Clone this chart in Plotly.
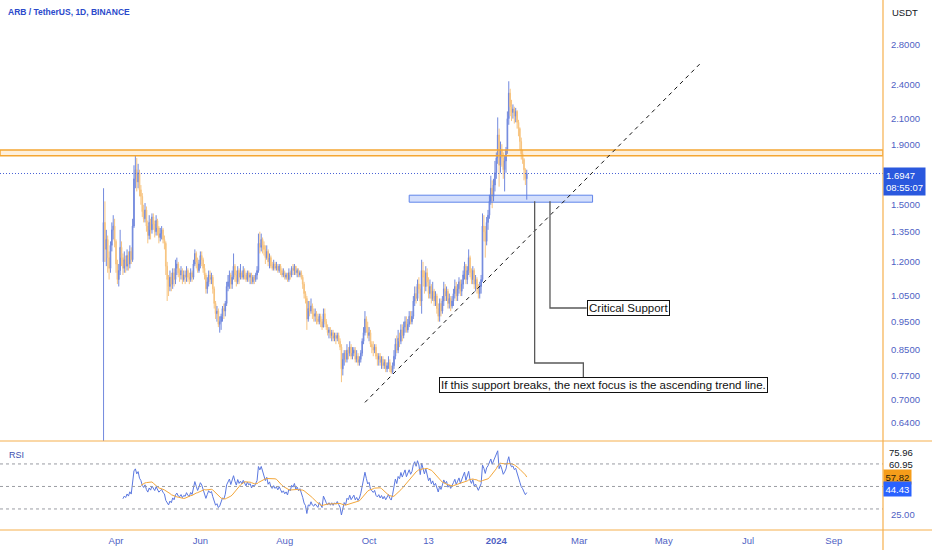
import math
import pandas as pd
import plotly.graph_objects as go

# ARB / USDT daily candles (open = previous close)
FIRST_DAY = "2023-03-23"
FIRST_OPEN = 1.20

closes = [
    1.40, 1.26, 1.31, 1.22, 1.17, 1.28, 1.36, 1.38, 1.30, 1.19,
    1.12, 1.16, 1.27, 1.22, 1.17, 1.21, 1.18, 1.23, 1.19, 1.25,
    1.21, 1.38, 1.66, 1.72, 1.64, 1.70, 1.59, 1.55, 1.46, 1.42,
    1.47, 1.38, 1.33, 1.40, 1.36, 1.43, 1.39, 1.35, 1.41, 1.37,
    1.32, 1.34, 1.36, 1.31, 1.29, 1.18, 1.12, 1.09, 1.13, 1.10,
    1.15, 1.12, 1.17, 1.19, 1.15, 1.14, 1.16, 1.12, 1.14, 1.13,
    1.16, 1.13, 1.12, 1.15, 1.13, 1.19, 1.24, 1.20, 1.16, 1.19,
    1.23, 1.21, 1.17, 1.14, 1.08, 1.11, 1.14, 1.12, 1.13, 1.08,
    1.02, 0.98, 0.99, 0.94, 0.95, 0.97, 1.00, 0.99, 1.02, 1.09,
    1.11, 1.14, 1.10, 1.13, 1.18, 1.14, 1.11, 1.16, 1.13, 1.15,
    1.13, 1.16, 1.14, 1.12, 1.15, 1.13, 1.14, 1.11, 1.13, 1.12,
    1.14, 1.16, 1.29, 1.27, 1.31, 1.28, 1.26, 1.22, 1.25, 1.20,
    1.22, 1.18, 1.17, 1.19, 1.17, 1.18, 1.16, 1.18, 1.16, 1.14,
    1.15, 1.13, 1.14, 1.12, 1.15, 1.14, 1.17, 1.16, 1.18, 1.15,
    1.16, 1.14, 1.15, 1.13, 1.10, 1.06, 1.04, 0.96, 1.00, 0.99,
    1.01, 0.98, 0.97, 0.98, 0.96, 0.95, 0.97, 0.95, 0.93, 0.98,
    0.95, 0.93, 0.91, 0.92, 0.90, 0.91, 0.89, 0.90, 0.89, 0.90,
    0.88, 0.86, 0.79, 0.82, 0.84, 0.82, 0.85, 0.84, 0.86, 0.83,
    0.84, 0.85, 0.82, 0.83, 0.81, 0.82, 0.84, 0.88, 0.91, 0.96,
    0.93, 0.90, 0.91, 0.87, 0.86, 0.85, 0.86, 0.83, 0.82, 0.83,
    0.81, 0.82, 0.80, 0.81, 0.79, 0.80, 0.81, 0.79, 0.78, 0.80,
    0.83, 0.87, 0.85, 0.89, 0.88, 0.92, 0.90, 0.93, 0.95, 0.92,
    0.94, 0.97, 0.95, 0.97, 1.03, 1.06, 1.04, 1.10, 1.08, 1.03,
    1.16, 1.13, 1.09, 1.15, 1.11, 1.06, 1.09, 1.04, 1.07, 1.03,
    1.05, 1.00, 0.97, 1.02, 0.99, 1.03, 1.08, 1.05, 1.07, 1.02,
    1.04, 1.01, 1.03, 1.06, 1.09, 1.05, 1.08, 1.11, 1.07, 1.10,
    1.14, 1.18, 1.12, 1.16, 1.22, 1.15, 1.12, 1.16, 1.10, 1.12,
    1.08, 1.06, 1.09, 1.12, 1.38, 1.35, 1.30, 1.40, 1.44, 1.52,
    1.60, 1.55, 1.62, 1.70, 1.80, 1.97, 1.75, 1.86, 1.80, 1.72,
    1.78, 1.86, 2.10, 2.32, 2.20, 2.15, 2.18, 2.12, 2.16, 2.07,
    2.02, 1.92, 1.83, 1.79, 1.72, 1.66, 1.6947,
]

highs = [
    1.60, 1.52, 1.36, 1.33, 1.25, 1.30, 1.40, 1.44, 1.42, 1.31,
    1.21, 1.19, 1.36, 1.30, 1.24, 1.25, 1.23, 1.26, 1.25, 1.28,
    1.27, 1.42, 1.75, 1.82, 1.80, 1.76, 1.72, 1.62, 1.57, 1.50,
    1.51, 1.49, 1.41, 1.44, 1.42, 1.45, 1.45, 1.41, 1.44, 1.42,
    1.38, 1.37, 1.38, 1.37, 1.33, 1.30, 1.20, 1.14, 1.16, 1.15,
    1.17, 1.17, 1.21, 1.22, 1.20, 1.17, 1.18, 1.17, 1.16, 1.16,
    1.18, 1.17, 1.15, 1.17, 1.16, 1.21, 1.26, 1.25, 1.22, 1.21,
    1.25, 1.25, 1.22, 1.19, 1.15, 1.13, 1.16, 1.16, 1.15, 1.14,
    1.09, 1.03, 1.01, 1.00, 0.97, 0.98, 1.01, 1.02, 1.03, 1.11,
    1.14, 1.16, 1.15, 1.16, 1.24, 1.19, 1.16, 1.18, 1.17, 1.19,
    1.16, 1.18, 1.17, 1.15, 1.16, 1.16, 1.15, 1.15, 1.14, 1.14,
    1.15, 1.18, 1.34, 1.35, 1.34, 1.32, 1.30, 1.28, 1.28, 1.26,
    1.24, 1.23, 1.20, 1.21, 1.20, 1.20, 1.19, 1.19, 1.19, 1.17,
    1.17, 1.16, 1.15, 1.15, 1.17, 1.16, 1.18, 1.19, 1.19, 1.18,
    1.17, 1.17, 1.16, 1.16, 1.14, 1.11, 1.07, 1.05, 1.03, 1.03,
    1.04, 1.02, 1.00, 1.00, 0.99, 0.98, 0.98, 0.98, 0.96, 1.00,
    1.00, 0.96, 0.94, 0.93, 0.93, 0.92, 0.92, 0.91, 0.91, 0.91,
    0.91, 0.89, 0.87, 0.84, 0.85, 0.85, 0.87, 0.86, 0.88, 0.87,
    0.86, 0.86, 0.86, 0.85, 0.84, 0.83, 0.85, 0.89, 0.93, 0.99,
    0.97, 0.95, 0.93, 0.92, 0.88, 0.88, 0.87, 0.87, 0.84, 0.84,
    0.84, 0.83, 0.83, 0.82, 0.82, 0.81, 0.83, 0.82, 0.80, 0.81,
    0.85, 0.89, 0.90, 0.92, 0.91, 0.94, 0.94, 0.95, 0.97, 0.97,
    0.96, 0.99, 0.99, 0.99, 1.05, 1.09, 1.09, 1.12, 1.13, 1.10,
    1.21, 1.20, 1.16, 1.18, 1.17, 1.13, 1.12, 1.10, 1.11, 1.08,
    1.07, 1.06, 1.02, 1.04, 1.04, 1.05, 1.11, 1.10, 1.09, 1.08,
    1.06, 1.05, 1.05, 1.08, 1.12, 1.11, 1.10, 1.13, 1.12, 1.12,
    1.16, 1.20, 1.19, 1.18, 1.26, 1.23, 1.17, 1.18, 1.17, 1.14,
    1.13, 1.10, 1.11, 1.14, 1.45, 1.44, 1.38, 1.43, 1.47, 1.56,
    1.68, 1.65, 1.66, 1.78, 1.84, 2.11, 2.02, 1.92, 1.90, 1.84,
    1.82, 1.88, 2.16, 2.43, 2.36, 2.26, 2.22, 2.20, 2.19, 2.17,
    2.09, 2.03, 1.95, 1.86, 1.80, 1.73, 1.72,
]

lows = [
    0.45, 1.20, 1.18, 1.15, 1.12, 1.15, 1.25, 1.31, 1.27, 1.15,
    1.10, 1.09, 1.14, 1.18, 1.14, 1.15, 1.15, 1.16, 1.16, 1.17,
    1.19, 1.20, 1.37, 1.60, 1.58, 1.60, 1.55, 1.50, 1.43, 1.40,
    1.40, 1.35, 1.29, 1.31, 1.31, 1.34, 1.36, 1.32, 1.33, 1.33,
    1.29, 1.30, 1.31, 1.29, 1.26, 1.14, 1.03, 1.05, 1.07, 1.07,
    1.08, 1.09, 1.10, 1.14, 1.13, 1.11, 1.12, 1.10, 1.11, 1.10,
    1.11, 1.11, 1.10, 1.11, 1.11, 1.12, 1.18, 1.17, 1.15, 1.15,
    1.17, 1.18, 1.15, 1.12, 1.06, 1.06, 1.09, 1.10, 1.10, 1.06,
    1.00, 0.96, 0.95, 0.93, 0.91, 0.92, 0.95, 0.96, 0.97, 1.01,
    1.07, 1.08, 1.08, 1.08, 1.12, 1.11, 1.09, 1.10, 1.10, 1.12,
    1.12, 1.12, 1.12, 1.11, 1.11, 1.11, 1.10, 1.10, 1.10, 1.10,
    1.11, 1.12, 1.15, 1.24, 1.25, 1.24, 1.23, 1.19, 1.21, 1.18,
    1.17, 1.17, 1.16, 1.16, 1.16, 1.16, 1.15, 1.15, 1.14, 1.13,
    1.13, 1.12, 1.12, 1.11, 1.11, 1.12, 1.13, 1.14, 1.14, 1.14,
    1.13, 1.13, 1.13, 1.12, 1.08, 1.04, 1.02, 0.92, 0.95, 0.97,
    0.98, 0.96, 0.95, 0.95, 0.94, 0.94, 0.94, 0.93, 0.92, 0.93,
    0.94, 0.92, 0.90, 0.89, 0.89, 0.88, 0.88, 0.88, 0.87, 0.88,
    0.87, 0.85, 0.75, 0.77, 0.80, 0.81, 0.81, 0.82, 0.83, 0.82,
    0.82, 0.83, 0.81, 0.81, 0.80, 0.80, 0.81, 0.83, 0.87, 0.90,
    0.91, 0.89, 0.88, 0.86, 0.84, 0.83, 0.84, 0.82, 0.80, 0.80,
    0.80, 0.79, 0.79, 0.79, 0.78, 0.78, 0.79, 0.78, 0.775, 0.775,
    0.79, 0.82, 0.84, 0.84, 0.86, 0.87, 0.88, 0.89, 0.91, 0.91,
    0.91, 0.93, 0.94, 0.94, 0.96, 1.01, 1.02, 1.03, 1.06, 1.01,
    0.98, 1.09, 1.06, 1.07, 1.09, 1.04, 1.04, 1.02, 1.03, 1.01,
    1.01, 0.98, 0.95, 0.95, 0.97, 0.98, 1.01, 1.03, 1.03, 1.00,
    1.00, 0.99, 1.00, 1.01, 1.04, 1.03, 1.03, 1.06, 1.05, 1.05,
    1.08, 1.12, 1.10, 1.10, 1.14, 1.13, 1.10, 1.10, 1.08, 1.07,
    1.06, 1.04, 1.04, 1.06, 1.11, 1.30, 1.22, 1.28, 1.36, 1.42,
    1.50, 1.48, 1.52, 1.58, 1.66, 1.76, 1.61, 1.70, 1.74, 1.66,
    1.58, 1.70, 1.83, 2.05, 2.12, 2.08, 2.10, 2.06, 2.07, 2.02,
    1.96, 1.86, 1.79, 1.76, 1.65, 1.62, 1.53,
]

price_ticks = [0.64, 0.70, 0.77, 0.85, 0.95, 1.05, 1.20, 1.35, 1.50, 1.90, 2.10, 2.40, 2.80]
date_ticks = ["2023-04-01", "2023-06-01", "2023-08-01", "2023-10-01", "2023-11-13",
              "2024-01-01", "2024-03-01", "2024-05-01", "2024-07-01", "2024-09-01"]
date_labels = ["Apr", "Jun", "Aug", "Oct", "13", "<b>2024</b>", "Mar", "May", "Jul", "Sep"]

# drawings on the chart
resistance_zone = [1.816, 1.858]
support_zone = [1.515, 1.557]
support_dates = ["2023-10-30", "2024-03-10 14:00"]
trend_dates = ["2023-09-28", "2024-05-27"]
trend_prices = [0.693, 2.598]
last_price = 1.6947
countdown = "08:55:07"
callout1_dates = ["2024-02-08 19:00", "2024-02-08 19:00", "2024-03-06 07:00"]
callout1_prices = [1.52, 1.002, 1.002]
callout2_dates = ["2024-01-28 17:00", "2024-01-28 17:00", "2024-03-03 22:00", "2024-03-03 22:00"]
callout2_prices = [1.52, 0.8084, 0.8084, 0.7649]
note1 = "Critical Support"
note2 = "If this support breaks, the next focus is the ascending trend line."

rsi_levels = [70, 50, 30]
rsi_scale_labels = ["75.96", "60.95"]
rsi_ma_label = "57.82"
rsi_label = "44.43"

X_RANGE = ["2023-01-07 03:00", "2024-10-06 14:00"]
Y_RANGE = [0.596, 3.338]
RSI_RANGE = [11.3, 90.4]

UP = "#7289de"
DOWN = "#f7c480"
BORDER = "#f6b04e"
AXIS_TXT = "#4f62c4"
FONT = "Liberation Sans"


def wilder_rsi(values, length=14):
    out = [None] * len(values)
    gains = [max(values[k] - values[k - 1], 0) for k in range(1, len(values))]
    losses = [max(values[k - 1] - values[k], 0) for k in range(1, len(values))]
    avg_g = sum(gains[:length]) / length
    avg_l = sum(losses[:length]) / length
    for k in range(length, len(values)):
        if k > length:
            avg_g = (avg_g * (length - 1) + gains[k - 1]) / length
            avg_l = (avg_l * (length - 1) + losses[k - 1]) / length
        out[k] = 100.0 if avg_l == 0 else 100 - 100 / (1 + avg_g / avg_l)
    return out


dates = pd.date_range(FIRST_DAY, periods=len(closes), freq="D")
opens = [FIRST_OPEN] + closes[:-1]
rsi = pd.Series(wilder_rsi(closes), dtype=float)
rsi_ma = rsi.rolling(14).mean()

fig = go.Figure()

fig.add_trace(go.Candlestick(
    x=dates, open=opens, high=highs, low=lows, close=closes,
    increasing=dict(line=dict(color=UP, width=1), fillcolor=UP),
    decreasing=dict(line=dict(color=DOWN, width=1), fillcolor=DOWN),
    whiskerwidth=0, hoverinfo="skip", xaxis="x", yaxis="y",
))

# resistance band across the whole chart
fig.add_trace(go.Scatter(
    x=[X_RANGE[0], X_RANGE[1], X_RANGE[1], X_RANGE[0], X_RANGE[0]],
    y=[resistance_zone[0], resistance_zone[0], resistance_zone[1], resistance_zone[1], resistance_zone[0]],
    mode="lines", fill="toself", fillcolor="rgba(247,170,60,0.18)",
    line=dict(color="#f5a733", width=1.5), hoverinfo="skip", xaxis="x", yaxis="y",
))

# support box
fig.add_trace(go.Scatter(
    x=[support_dates[0], support_dates[1], support_dates[1], support_dates[0], support_dates[0]],
    y=[support_zone[0], support_zone[0], support_zone[1], support_zone[1], support_zone[0]],
    mode="lines", fill="toself", fillcolor="rgba(60,110,240,0.22)",
    line=dict(color="#5f84ea", width=1), hoverinfo="skip", xaxis="x", yaxis="y",
))

# last price line
fig.add_trace(go.Scatter(
    x=X_RANGE, y=[last_price, last_price], mode="lines",
    line=dict(color="#4a63d6", width=1, dash="1px,2px"), hoverinfo="skip", xaxis="x", yaxis="y",
))

# ascending trend line
fig.add_trace(go.Scatter(
    x=trend_dates, y=trend_prices, mode="lines",
    line=dict(color="#111111", width=1, dash="4px,4px"), hoverinfo="skip", xaxis="x", yaxis="y",
))

# callout leader lines
for cx, cy in [(callout1_dates, callout1_prices), (callout2_dates, callout2_prices)]:
    fig.add_trace(go.Scatter(
        x=cx, y=cy, mode="lines", line=dict(color="#5a5a5a", width=1.3),
        hoverinfo="skip", xaxis="x", yaxis="y",
    ))

# RSI pane
fig.add_trace(go.Scatter(
    x=dates, y=rsi, mode="lines", line=dict(color="#5b78e0", width=1),
    hoverinfo="skip", xaxis="x", yaxis="y2",
))
fig.add_trace(go.Scatter(
    x=dates, y=rsi_ma, mode="lines", line=dict(color="#f3a73b", width=1),
    hoverinfo="skip", xaxis="x", yaxis="y2",
))

PANE_SPLIT = 89 / 530

shapes = []
for lvl in rsi_levels:
    shapes.append(dict(type="line", xref="paper", yref="y2", x0=0, x1=1, y0=lvl, y1=lvl,
                       line=dict(color="#9a9ca3", width=1, dash="3px,3px")))
shapes.append(dict(type="line", xref="paper", yref="paper", x0=1, x1=1, y0=-20 / 530, y1=1,
                   line=dict(color=BORDER, width=1.2)))
shapes.append(dict(type="line", xref="paper", yref="paper", x0=0, x1=932 / 883, y0=PANE_SPLIT, y1=PANE_SPLIT,
                   line=dict(color=BORDER, width=1.2)))
shapes.append(dict(type="line", xref="paper", yref="paper", x0=0, x1=932 / 883, y0=0, y1=0,
                   line=dict(color=BORDER, width=1.2)))

small = dict(family=FONT, size=9.5, color="#131722")
annotations = [
    dict(xref="paper", yref="paper", x=6 / 883, y=1 - 12 / 530, xanchor="left", yanchor="middle",
         text="<b>ARB / TetherUS, 1D, BINANCE</b>", showarrow=False,
         font=dict(family=FONT, size=8.5, color="#2b4acb")),
    dict(xref="paper", yref="paper", x=905 / 883, y=1 - 13 / 530, xanchor="center", yanchor="middle",
         text="USDT", showarrow=False, font=small),
    dict(xref="paper", yref="paper", x=7 / 883, y=(530 - 455) / 530, xanchor="left", yanchor="middle",
         text="RSI", showarrow=False, font=dict(family=FONT, size=9, color="#3d4fb0")),
    dict(xref="paper", yref="y", x=1, y=math.log10(last_price), xanchor="left", yanchor="top", yshift=6.5,
         text=f"{last_price:.4f}<br>{countdown}", showarrow=False, align="left",
         bgcolor="#2a58de", borderpad=2, font=dict(family=FONT, size=9.5, color="white")),
    dict(xref="paper", yref="paper", x=1, xshift=4, y=(530 - 452) / 530, xanchor="left", yanchor="middle",
         text=rsi_scale_labels[0], showarrow=False, font=small),
    dict(xref="paper", yref="paper", x=1, xshift=4, y=(530 - 464) / 530, xanchor="left", yanchor="middle",
         text=rsi_scale_labels[1], showarrow=False, font=small),
    dict(xref="paper", yref="paper", x=1, y=(530 - 477) / 530, xanchor="left", yanchor="middle",
         text=rsi_ma_label, showarrow=False, bgcolor="#f59d1a", borderpad=1.5,
         font=dict(family=FONT, size=9.5, color="#2a1f0a")),
    dict(xref="paper", yref="paper", x=1, y=(530 - 489) / 530, xanchor="left", yanchor="middle",
         text=rsi_label, showarrow=False, bgcolor="#2962ff", borderpad=1.5,
         font=dict(family=FONT, size=9.5, color="white")),
    dict(xref="x", yref="y", x=callout1_dates[-1], y=math.log10(callout1_prices[-1]),
         xanchor="left", yanchor="middle", text=note1, showarrow=False,
         bgcolor="white", bordercolor="#111111", borderwidth=1, borderpad=1,
         font=dict(family=FONT, size=11.5, color="#111111")),
    dict(xref="x", yref="y", x="2024-03-18 07:00", y=math.log10(callout2_prices[-1]),
         xanchor="center", yanchor="top", text=note2, showarrow=False,
         bgcolor="white", bordercolor="#111111", borderwidth=1, borderpad=1,
         font=dict(family=FONT, size=11.5, color="#111111")),
]

fig.update_layout(
    width=932, height=550,
    margin=dict(l=0, r=49, t=0, b=20),
    paper_bgcolor="white", plot_bgcolor="white",
    showlegend=False, hovermode=False,
    font=dict(family=FONT, size=9.5, color=AXIS_TXT),
    shapes=shapes, annotations=annotations,
    xaxis=dict(
        type="date", range=X_RANGE, anchor="y2", domain=[0, 1],
        tickvals=date_ticks, ticktext=date_labels,
        showgrid=False, zeroline=False, showline=False,
        ticks="outside", ticklen=2, tickcolor="rgba(0,0,0,0)",
        tickfont=dict(family=FONT, size=9.5, color=AXIS_TXT),
        rangeslider=dict(visible=False),
    ),
    yaxis=dict(
        type="log", range=[math.log10(Y_RANGE[0]), math.log10(Y_RANGE[1])],
        domain=[PANE_SPLIT, 1], anchor="x", side="right",
        tickvals=price_ticks, ticktext=[f"{v:.4f}" for v in price_ticks],
        showgrid=False, zeroline=False, showline=False,
        ticks="outside", ticklen=5, tickcolor="rgba(0,0,0,0)",
        tickfont=dict(family=FONT, size=9.5, color=AXIS_TXT),
    ),
    yaxis2=dict(
        range=RSI_RANGE, domain=[0, PANE_SPLIT], anchor="x", side="right",
        tickvals=[25], ticktext=["25.00"],
        showgrid=False, zeroline=False, showline=False,
        ticks="outside", ticklen=5, tickcolor="rgba(0,0,0,0)",
        tickfont=dict(family=FONT, size=9.5, color=AXIS_TXT),
    ),
)

# the page body has a default 8px margin; drop it so the chart fills the window
fig.write_html("out.html", config={"displayModeBar": False},
               post_script="document.body.style.margin='0';")
